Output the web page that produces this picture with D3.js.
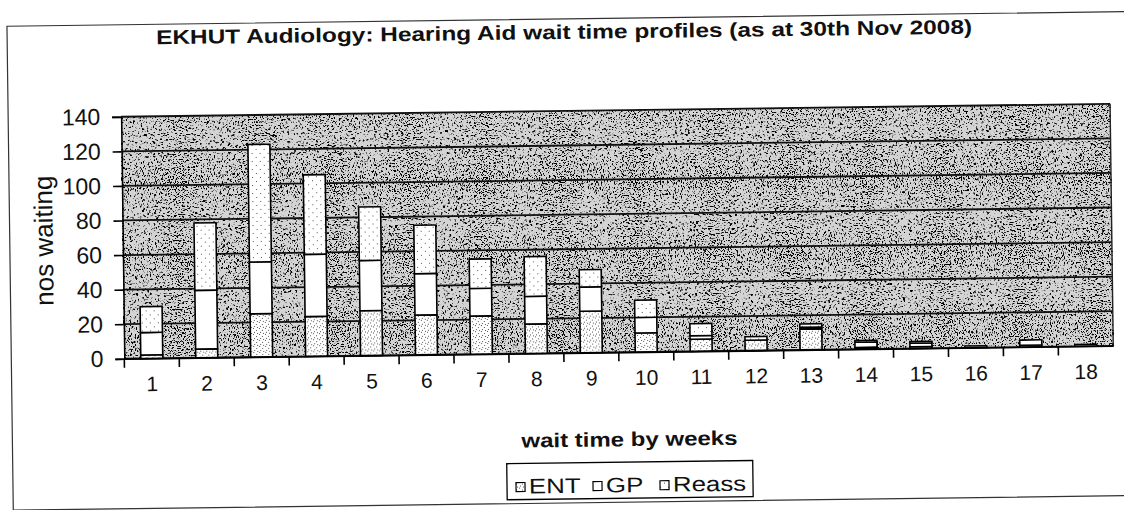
<!DOCTYPE html>
<html>
<head>
<meta charset="utf-8">
<script src="https://cdn.jsdelivr.net/npm/d3@7"></script>
<style>
  body { margin: 0; background: #fff; }
  svg { display: block; font-family: Arial, "Liberation Sans", sans-serif; }
</style>
</head>
<body>
<svg id="chart" width="1124" height="510"></svg>
<script>
// weeks waited, and the three referral sources stacked per week
const weeks = d3.range(1, 19).map(String);
const ent   = [2, 5, 25, 23, 26, 23, 22, 17, 24, 11, 7, 6, 12, 1, 1, 0, 1, 0];
const gp    = [13, 34, 30, 36, 29, 24, 16, 16, 14, 9, 2, 0, 1, 3, 2, 1, 3, 1];
const reass = [15, 39, 68, 46, 31, 28, 17, 23, 10, 10, 7, 2, 2, 1, 1, 0, 0, 0];
const seriesNames = ["ENT", "GP", "Reass"];
const yTicks = [0, 20, 40, 60, 80, 100, 120, 140];

const FONT = 'Arial, "Liberation Sans", sans-serif';
const svg = d3.select("#chart");

// patterns: speckled grey for the plot area, dotted fills for the bars
const defs = svg.append("defs");

const grain = defs.append("filter").attr("id", "grain")
    .attr("x", 0).attr("y", 0).attr("width", 1).attr("height", 1);
grain.append("feTurbulence")
    .attr("type", "fractalNoise").attr("baseFrequency", 0.85)
    .attr("numOctaves", 2).attr("seed", 7).attr("result", "n");
grain.append("feColorMatrix").attr("in", "n").attr("type", "matrix")
    .attr("values", "0 0 0 0 0  0 0 0 0 0  0 0 0 0 0  14 0 0 0 -7.4");

function dots(id, pts, size) {
    const p = defs.append("pattern").attr("id", id)
        .attr("patternUnits", "userSpaceOnUse")
        .attr("width", size).attr("height", size);
    p.append("rect").attr("width", size).attr("height", size).attr("fill", "#fff");
    pts.forEach(d => p.append("rect").attr("x", d[0]).attr("y", d[1])
        .attr("width", 1).attr("height", 1).attr("fill", "#555"));
}
dots("pEnt", [[0, 0], [3, 2], [1, 4], [4, 5]], 6);
dots("pReass", [[1, 1], [5, 5]], 8);
const fills = { ENT: "url(#pEnt)", GP: "#fff", Reass: "url(#pReass)" };

// the scan is tilted a little, so the whole page is turned with it
const page = svg.append("g").attr("transform", "rotate(-0.75,562,255)");

page.append("rect")
    .attr("x", 10).attr("y", 19).attr("width", 1130).attr("height", 484)
    .attr("fill", "none").attr("stroke", "#333").attr("stroke-width", 1.2);

const margin = { left: 123, right: 1112, top: 111, bottom: 353 };

const x = d3.scaleBand()
    .domain(weeks)
    .range([margin.left, margin.right])
    .paddingInner(0.6)
    .paddingOuter(0.3);

const y = d3.scaleLinear()
    .domain([0, 140])
    .range([margin.bottom, margin.top]);

// plot area
page.append("rect")
    .attr("x", margin.left).attr("y", margin.top)
    .attr("width", margin.right - margin.left).attr("height", margin.bottom - margin.top)
    .attr("fill", "#d4d4d4");
page.append("rect")
    .attr("x", margin.left).attr("y", margin.top)
    .attr("width", margin.right - margin.left).attr("height", margin.bottom - margin.top)
    .attr("fill", "#000").attr("filter", "url(#grain)");

// gridlines
page.append("g")
    .selectAll("line")
    .data(yTicks)
    .join("line")
    .attr("x1", margin.left).attr("x2", margin.right)
    .attr("y1", d => y(d)).attr("y2", d => y(d))
    .attr("stroke", "#111").attr("stroke-width", 1.8);

page.append("line")
    .attr("x1", margin.right).attr("x2", margin.right)
    .attr("y1", margin.top).attr("y2", margin.bottom)
    .attr("stroke", "#222").attr("stroke-width", 1.4);

// stacked bars
const rows = weeks.map((w, i) => ({ week: w, ENT: ent[i], GP: gp[i], Reass: reass[i] }));
const stack = d3.stack().keys(seriesNames)(rows);

page.append("g")
    .selectAll("g")
    .data(stack)
    .join("g")
    .attr("fill", d => fills[d.key])
    .selectAll("rect")
    .data(d => d.filter(s => s[1] > s[0]))
    .join("rect")
    .attr("x", d => x(d.data.week))
    .attr("width", x.bandwidth())
    .attr("y", d => y(d[1]))
    .attr("height", d => y(d[0]) - y(d[1]))
    .attr("stroke", "#000")
    .attr("stroke-width", 1.6);

// y axis
const yAxis = page.append("g")
    .attr("transform", `translate(${margin.left},0)`)
    .call(d3.axisLeft(y).tickValues(yTicks).tickSize(9).tickPadding(12));
yAxis.select(".domain").attr("stroke", "#000").attr("stroke-width", 1.6);
yAxis.selectAll(".tick line").attr("stroke", "#000").attr("stroke-width", 1.6);
yAxis.selectAll(".tick text").attr("font-size", 23).attr("fill", "#111")
    .attr("font-family", FONT);

// x axis: tick marks sit between the weeks
const xAxis = page.append("g")
    .attr("transform", `translate(0,${margin.bottom})`)
    .call(d3.axisBottom(x).tickSize(0).tickPadding(18));
xAxis.select(".domain").attr("stroke", "#000").attr("stroke-width", 1.6);
xAxis.selectAll(".tick text").attr("font-size", 21).attr("fill", "#111")
    .attr("font-family", FONT);
xAxis.selectAll(".sep")
    .data(weeks)
    .join("line")
    .attr("class", "sep")
    .attr("x1", d => x(d) - x.step() * 0.3).attr("x2", d => x(d) - x.step() * 0.3)
    .attr("y1", 0).attr("y2", 9)
    .attr("stroke", "#000").attr("stroke-width", 1.6);

// the scan is stretched sideways, so the headings are widened a bit
function wideText(parent, px, py, k, str, size, weight, anchor) {
    return parent.append("g")
        .attr("transform", `translate(${px},${py}) scale(${k},1)`)
        .append("text")
        .attr("text-anchor", anchor)
        .attr("font-size", size).attr("font-weight", weight).attr("fill", "#111")
        .text(str);
}

page.append("text")
    .attr("x", 159).attr("y", 39)
    .attr("textLength", 816).attr("lengthAdjust", "spacingAndGlyphs")
    .attr("font-size", 20).attr("font-weight", "bold").attr("fill", "#111")
    .text("EKHUT Audiology: Hearing Aid wait time profiles (as at 30th Nov 2008)");

wideText(page, 627, 447, 1.2, "wait time by weeks", 20, "bold", "middle");

page.append("text")
    .attr("transform", "translate(53,234) rotate(-90)")
    .attr("text-anchor", "middle")
    .attr("font-size", 26).attr("fill", "#111")
    .text("nos waiting");

// legend
const legend = page.append("g").attr("transform", "translate(504,463)");
legend.append("rect")
    .attr("width", 246).attr("height", 36)
    .attr("fill", "#fff").attr("stroke", "#000").attr("stroke-width", 1.3);
const swX = [9, 86, 153];
legend.selectAll("rect.sw")
    .data(seriesNames)
    .join("rect")
    .attr("class", "sw")
    .attr("x", (d, i) => swX[i]).attr("y", 19)
    .attr("width", 9).attr("height", 9)
    .attr("fill", d => fills[d]).attr("stroke", "#000").attr("stroke-width", 1.2);
seriesNames.forEach((s, i) => wideText(legend, swX[i] + 13, 30, 1.23, s, 21, "normal", "start"));
</script>
</body>
</html>
